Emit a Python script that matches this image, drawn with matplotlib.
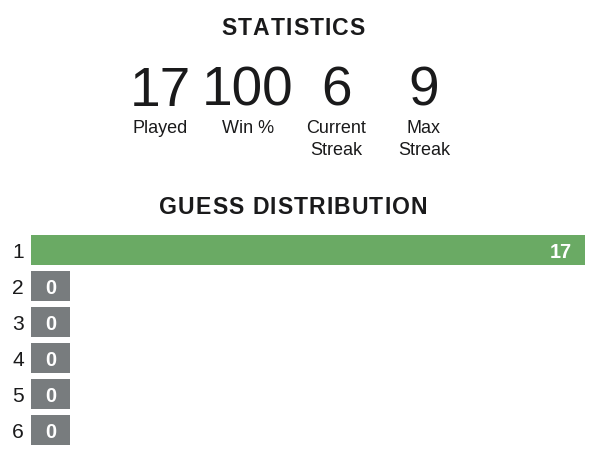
import matplotlib
matplotlib.use("Agg")
import matplotlib.pyplot as plt
from matplotlib.font_manager import FontProperties

# ---- data ----
stat_values = ["17", "100", "6", "9"]
stat_labels = ["Played", "Win %", "Current\nStreak", "Max\nStreak"]
guesses = ["1", "2", "3", "4", "5", "6"]
counts = [17, 0, 0, 0, 0, 0]
highlight_guess = "1"

W, H = 594, 466
DPI = 100
PT = 72.0 / DPI  # points per pixel

TEXT = "#1a1a1b"
GREEN = "#6aaa64"
GRAY = "#787c7e"
FONT = "Liberation Sans"

fig = plt.figure(figsize=(W / DPI, H / DPI), dpi=DPI)
fig.patch.set_facecolor("white")


def fx(x):
    return x / W


def fy(y):
    return 1 - y / H


def spaced_title(text, cx, baseline, size_px, spacing_px):
    prop = FontProperties(family=FONT, weight="bold", size=size_px * PT)
    r = fig.canvas.get_renderer()
    widths = [r.get_text_width_height_descent(c, prop, ismath=False)[0] for c in text]
    total = sum(widths) + spacing_px * (len(text) - 1)
    x = cx - total / 2
    for c, w in zip(text, widths):
        fig.text(fx(x), fy(baseline), c, fontproperties=prop, color=TEXT,
                 ha="left", va="baseline")
        x += w + spacing_px


spaced_title("STATISTICS", 293, 35, 23, 1.1)
spaced_title("GUESS DISTRIBUTION", 293, 214, 23, 1.1)

col_centers = [160, 248, 336, 424]
for cx, v, lab in zip(col_centers, stat_values, stat_labels):
    fig.text(fx(cx), fy(106), v, family=FONT, fontsize=55 * PT, color=TEXT,
             ha="center", va="baseline")
    lines = lab.split("\n")
    for i, line in enumerate(lines):
        fig.text(fx(cx), fy(133 + 22 * i), line, family=FONT, fontsize=18 * PT,
                 color=TEXT, ha="center", va="baseline")

# ---- distribution bars ----
left, right = 31, 585
top, bottom = 232, 448
ax = fig.add_axes([fx(left), fy(bottom), (right - left) / W, (bottom - top) / H])
n = len(guesses)
ypos = list(range(1, n + 1))
maxc = max(counts) if max(counts) > 0 else 1
widths = [max(c, 0.07 * maxc) for c in counts]
colors = [GREEN if g == highlight_guess else GRAY for g in guesses]
ax.barh(ypos, widths, height=30 / 36, color=colors, left=0)
ax.set_xlim(0, maxc)
ax.set_ylim(n + 0.5, 0.5)
for y, w, c in zip(ypos, widths, counts):
    ax.annotate(str(c), xy=(w, y), xytext=(-13.5 * PT, 0), textcoords="offset points",
                ha="right", va="center_baseline", color="white", fontweight="bold",
                family=FONT, fontsize=20 * PT)
ax.set_yticks(ypos)
ax.set_yticklabels(guesses, family=FONT, fontsize=21 * PT, color=TEXT)
ax.tick_params(axis="y", length=0, pad=7 * PT)
ax.set_xticks([])
for s in ax.spines.values():
    s.set_visible(False)

fig.savefig("out.png", dpi=DPI, facecolor="white")
